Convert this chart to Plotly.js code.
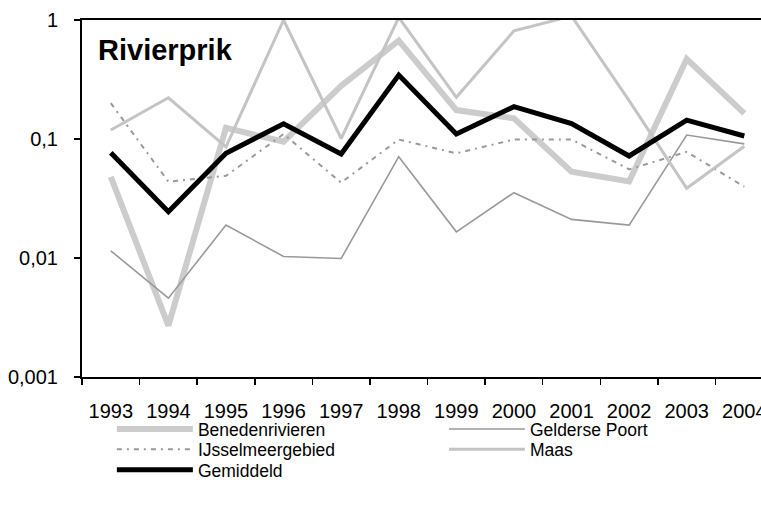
<!DOCTYPE html>
<html>
<head>
<meta charset="utf-8">
<script src="https://cdn.plot.ly/plotly-3.0.1.min.js"></script>
<style>html,body{margin:0;padding:0;background:#fff;}#chart{width:761px;height:508px;}</style>
</head>
<body>
<div id="chart"></div>
<script>
const years = ['1993','1994','1995','1996','1997','1998','1999','2000','2001','2002','2003','2004'];
const benedenrivieren = [0.048, 0.0027, 0.124, 0.095, 0.28, 0.67, 0.175, 0.149, 0.053, 0.044, 0.47, 0.164];
const geldersePoort = [0.0115, 0.0046, 0.0189, 0.0103, 0.0099, 0.071, 0.0166, 0.0354, 0.0211, 0.0189, 0.108, 0.091];
const ijsselmeergebied = [0.2, 0.0438, 0.049, 0.11, 0.043, 0.099, 0.0758, 0.099, 0.099, 0.0556, 0.078, 0.0397];
const maas = [0.119, 0.222, 0.086, 1.0, 0.101, 1.05, 0.224, 0.81, 1.08, 0.21, 0.0385, 0.087];
const gemiddeld = [0.0767, 0.0245, 0.076, 0.134, 0.0748, 0.345, 0.110, 0.187, 0.135, 0.072, 0.144, 0.106];
const yTickVals = [0.001, 0.01, 0.1, 1];
const yTickText = ['0,001', '0,01', '0,1', '1'];

const FONT = 'Liberation Sans, Arial, sans-serif';

const traces = [
  {name: 'Benedenrivieren', y: benedenrivieren, legend: 'legend', line: {color: '#cccccc', width: 6}},
  {name: 'Gelderse Poort', y: geldersePoort, legend: 'legend2', line: {color: '#999999', width: 1.6}},
  {name: 'IJsselmeergebied', y: ijsselmeergebied, legend: 'legend3', line: {color: '#999999', width: 2, dash: '5px,5px,2px,5px'}},
  {name: 'Maas', y: maas, legend: 'legend4', line: {color: '#c4c4c4', width: 3}},
  {name: 'Gemiddeld', y: gemiddeld, legend: 'legend5', line: {color: '#000000', width: 5}}
].map(t => Object.assign({x: years, type: 'scatter', mode: 'lines', hoverinfo: 'skip'}, t));

const legendBase = {
  orientation: 'v', xanchor: 'left', yanchor: 'top',
  itemwidth: 76, traceorder: 'normal', tracegroupgap: 0,
  font: {family: FONT, size: 17.5, color: '#000'},
  bgcolor: 'rgba(0,0,0,0)', borderwidth: 0
};
const col1 = 0.044, col2 = 0.533;
const row1 = -0.0954, row2 = -0.152, row3 = -0.210;

const layout = {
  width: 761, height: 508,
  margin: {l: 82, r: 0, t: 20, b: 131, pad: 0},
  paper_bgcolor: '#ffffff', plot_bgcolor: '#ffffff',
  font: {family: FONT, size: 20, color: '#000'},
  showlegend: true,
  xaxis: {
    type: 'category', range: [-0.5, 11.29],
    showgrid: false, zeroline: false,
    showline: true, linecolor: '#000', linewidth: 2, mirror: true,
    ticks: 'outside', ticklen: 6, tickwidth: 1.5, tickcolor: '#000',
    tickson: 'boundaries', ticklabelstandoff: 15,
    tickfont: {family: FONT, size: 20, color: '#000'}
  },
  yaxis: {
    type: 'log', range: [-3, 0],
    tickvals: yTickVals, ticktext: yTickText,
    showgrid: false, zeroline: false,
    showline: true, linecolor: '#000', linewidth: 2,
    ticks: 'outside', ticklen: 6, tickwidth: 1.5, tickcolor: '#000',
    ticklabelstandoff: 12,
    tickfont: {family: FONT, size: 20, color: '#000'}
  },
  legend: Object.assign({}, legendBase, {x: col1, y: row1}),
  legend2: Object.assign({}, legendBase, {x: col2, y: row1}),
  legend3: Object.assign({}, legendBase, {x: col1, y: row2}),
  legend4: Object.assign({}, legendBase, {x: col2, y: row2}),
  legend5: Object.assign({}, legendBase, {x: col1, y: row3}),
  annotations: [{
    text: '<b>Rivierprik</b>', xref: 'paper', yref: 'paper',
    x: 0.02, y: 0.916, xanchor: 'left', yanchor: 'middle', showarrow: false,
    font: {family: FONT, size: 29, color: '#000'}
  }]
};

Plotly.newPlot('chart', traces, layout, {staticPlot: true, displayModeBar: false});
</script>
</body>
</html>
